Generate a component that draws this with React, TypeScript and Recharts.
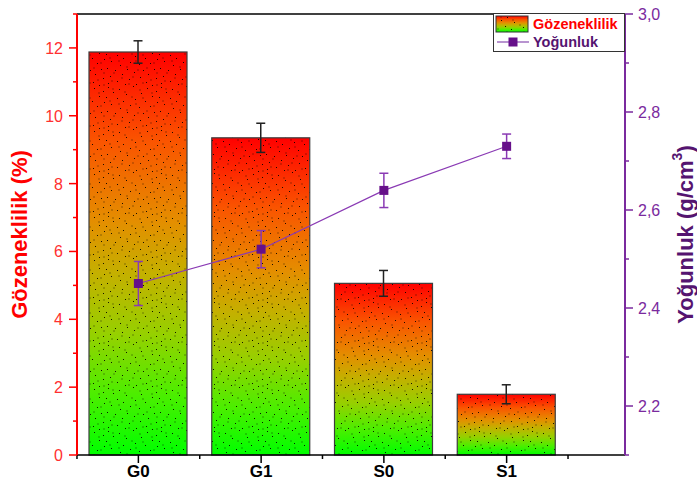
import React from "react";
import { ComposedChart, Bar, Line, XAxis, YAxis, ErrorBar, ReferenceLine } from "recharts";

const categories = ["G0", "G1", "S0", "S1"];
const porosity = [11.88, 9.35, 5.06, 1.79];
const porosityErr = [0.33, 0.43, 0.38, 0.28];
const density = [2.45, 2.52, 2.64, 2.73];
const densityErr = [0.045, 0.038, 0.035, 0.025];

const leftTicks = [0, 1, 2, 3, 4, 5, 6, 7, 8, 9, 10, 11, 12, 13];
const rightTicks = [2.1, 2.2, 2.3, 2.4, 2.5, 2.6, 2.7, 2.8, 2.9, 3.0];

const data = categories.map((cat, i) => ({
  cat,
  por: porosity[i],
  porErr: porosityErr[i],
  den: density[i],
  denErr: densityErr[i],
}));

const FONT = "'Liberation Sans', Arial, sans-serif";
const RED = "#ff0000";
const PURPLE = "#7a2a9e";
const DARK_PURPLE = "#551470";

// fixed speckle texture for the bar fill
const blackDots = [
  [2, 1], [13, 3], [27, 0], [41, 2], [50, 5], [7, 6], [20, 8], [35, 7], [46, 10], [0, 11], [11, 12],
  [29, 13], [39, 15], [17, 15], [51, 16], [5, 18], [24, 19], [44, 20], [33, 21], [14, 22], [1, 25],
  [9, 27], [21, 26], [37, 27], [48, 26], [28, 29], [42, 31], [16, 31], [4, 33], [34, 34], [50, 35],
  [23, 36], [11, 38], [40, 39], [30, 41], [2, 40], [46, 42], [19, 41],
];
const softDots = [
  [6, 2], [33, 3], [18, 5], [45, 6], [25, 10], [3, 14], [36, 11], [12, 17], [47, 19], [29, 17], [20, 23],
  [40, 24], [7, 29], [31, 26], [50, 29], [15, 34], [26, 33], [44, 36], [36, 39], [5, 37], [22, 40], [50, 41],
];

const Defs = () => (
  <defs>
    <linearGradient id="barGrad" x1="0" y1="0" x2="0" y2="1">
      <stop offset="0" stopColor="#ff0000" />
      <stop offset="0.22" stopColor="#fa5400" />
      <stop offset="0.42" stopColor="#e48e00" />
      <stop offset="0.55" stopColor="#c4b000" />
      <stop offset="0.7" stopColor="#96d000" />
      <stop offset="0.85" stopColor="#4cee00" />
      <stop offset="1" stopColor="#00ff00" />
    </linearGradient>
    <pattern id="speckle" patternUnits="userSpaceOnUse" width={53} height={43}>
      {softDots.map(([x, y], i) => (
        <rect key={"s" + i} x={x} y={y} width={2} height={2} fill="#000" fillOpacity={0.18} />
      ))}
      {blackDots.map(([x, y], i) => (
        <rect key={"b" + i} x={x} y={y} width={1} height={1} fill="#000" fillOpacity={0.9} />
      ))}
    </pattern>
  </defs>
);

const BarShape = (p: any) => {
  const { x, y, width, height } = p;
  if (height == null || height <= 0) return null;
  return (
    <g>
      <rect x={x} y={y} width={width} height={height} fill="url(#barGrad)" />
      <rect x={x} y={y} width={width} height={height} fill="url(#speckle)" />
      <rect x={x} y={y} width={width} height={height} fill="none" stroke="#3c3c3c" strokeWidth={1.2} />
    </g>
  );
};

const SquareDot = (p: any) => {
  const { cx, cy } = p;
  if (cx == null || cy == null) return null;
  return <rect x={cx - 4.5} y={cy - 4.5} width={9} height={9} fill="#66108a" />;
};

const LeftTick = (p: any) => {
  const { x, y, payload } = p;
  const v = payload.value;
  const major = v % 2 === 0;
  return (
    <g>
      <line x1={x - (major ? 8 : 4)} x2={x} y1={y} y2={y} stroke={RED} strokeWidth={1.5} />
      {major && (
        <text x={x - 14} y={y} dy={6} textAnchor="end" fontSize={16} fill="#ff3030" fontFamily={FONT}>
          {v}
        </text>
      )}
    </g>
  );
};

const RightTick = (p: any) => {
  const { x, y, payload } = p;
  const v = payload.value;
  const major = Math.round(v * 10) % 2 === 0;
  return (
    <g>
      <line x1={x} x2={x + (major ? 8 : 4)} y1={y} y2={y} stroke={PURPLE} strokeWidth={1.5} />
      {major && (
        <text x={x + 13} y={y} dy={6} textAnchor="start" fontSize={16} fill={PURPLE} fontFamily={FONT}>
          {v.toFixed(1).replace(".", ",")}
        </text>
      )}
    </g>
  );
};

const BottomTick = (p: any) => {
  const { x, y, payload, index } = p;
  const half = 61.4;
  return (
    <g>
      <line x1={x} x2={x} y1={y} y2={y + 8} stroke="#000" strokeWidth={1.5} />
      <line x1={x - half} x2={x - half} y1={y} y2={y + 4} stroke="#000" strokeWidth={1.5} />
      {index === categories.length - 1 && (
        <line x1={x + half} x2={x + half} y1={y} y2={y + 4} stroke="#000" strokeWidth={1.5} />
      )}
      <text x={x} y={y + 22} textAnchor="middle" fontSize={17} fontWeight="bold" fill="#000" fontFamily={FONT}>
        {payload.value}
      </text>
    </g>
  );
};

const LeftTitle = (p: any) => {
  const vb = p.viewBox;
  const cx = vb.x + 19;
  const cy = vb.y + vb.height / 2;
  return (
    <text
      x={cx}
      y={cy}
      transform={`rotate(-90 ${cx} ${cy})`}
      textAnchor="middle"
      dominantBaseline="central"
      fontSize={22}
      fontWeight="bold"
      fill={RED}
      fontFamily={FONT}
    >
      Gözeneklilik (%)
    </text>
  );
};

const RightTitle = (p: any) => {
  const vb = p.viewBox;
  const cx = vb.x + 60;
  const cy = vb.y + vb.height / 2;
  return (
    <text
      x={cx}
      y={cy}
      transform={`rotate(-90 ${cx} ${cy})`}
      textAnchor="middle"
      dominantBaseline="central"
      fontSize={22}
      fontWeight="bold"
      fill={DARK_PURPLE}
      fontFamily={FONT}
    >
      Yoğunluk (g/cm
      <tspan fontSize={14} dy={-8}>3</tspan>
      <tspan dy={8}>)</tspan>
    </text>
  );
};

const LegendBox = () => (
  <div
    style={{
      position: "absolute",
      left: 493,
      top: 13,
      width: 130,
      height: 37,
      border: "1px solid #333",
      background: "#fff",
    }}
  >
    <svg width={130} height={37} style={{ position: "absolute", left: 0, top: 0 }}>
      <rect x={2} y={2} width={32} height={16} fill="url(#barGrad)" />
      <rect x={2} y={2} width={32} height={16} fill="url(#speckle)" />
      <rect x={2} y={2} width={32} height={16} fill="none" stroke="#333" strokeWidth={1} />
      <line x1={3} x2={35} y1={28} y2={28} stroke="#a070c0" strokeWidth={1.5} />
      <rect x={14.5} y={23.5} width={9} height={9} fill="#66108a" />
      <text x={39} y={15} fill={RED} fontSize={14.5} fontWeight="bold" fontFamily={FONT}>
        Gözeneklilik
      </text>
      <text x={39} y={33} fill={DARK_PURPLE} fontSize={14.5} fontWeight="bold" fontFamily={FONT}>
        Yoğunluk
      </text>
    </svg>
  </div>
);

export default function App() {
  return (
    <div style={{ position: "absolute", left: 0, top: 0, width: 697, height: 486, background: "#fff" }}>
      <ComposedChart width={697} height={486} data={data} margin={{ top: 14, right: 0, left: 0, bottom: 0 }}>
        <Defs />
        <XAxis
          dataKey="cat"
          height={31}
          padding={{ left: 0, right: 57 }}
          tickSize={0}
          tickMargin={0}
          tick={<BottomTick />}
          axisLine={{ stroke: "#000", strokeWidth: 1.5 }}
          interval={0}
        />
        <YAxis
          yAxisId="left"
          width={77}
          domain={[0, 13]}
          ticks={leftTicks}
          interval={0}
          tickSize={0}
          tickMargin={0}
          tick={<LeftTick />}
          axisLine={{ stroke: RED, strokeWidth: 2 }}
          label={LeftTitle}
        />
        <YAxis
          yAxisId="right"
          orientation="right"
          width={72}
          domain={[2.1, 3.0]}
          ticks={rightTicks}
          interval={0}
          tickSize={0}
          tickMargin={0}
          tick={<RightTick />}
          axisLine={{ stroke: PURPLE, strokeWidth: 2 }}
          label={RightTitle}
        />
        <ReferenceLine yAxisId="left" y={13} stroke="#000" strokeWidth={1.5} />
        <Bar yAxisId="left" dataKey="por" barSize={98} shape={<BarShape />} isAnimationActive={false}>
          <ErrorBar dataKey="porErr" width={4.5} stroke="#222" strokeWidth={1.5} />
        </Bar>
        <Line
          yAxisId="right"
          dataKey="den"
          type="linear"
          stroke="#8a3ab4"
          strokeWidth={1.2}
          dot={<SquareDot />}
          activeDot={false}
          isAnimationActive={false}
        >
          <ErrorBar dataKey="denErr" width={4.5} stroke="#8a3ab4" strokeWidth={1.5} />
        </Line>
      </ComposedChart>
      <LegendBox />
    </div>
  );
}
